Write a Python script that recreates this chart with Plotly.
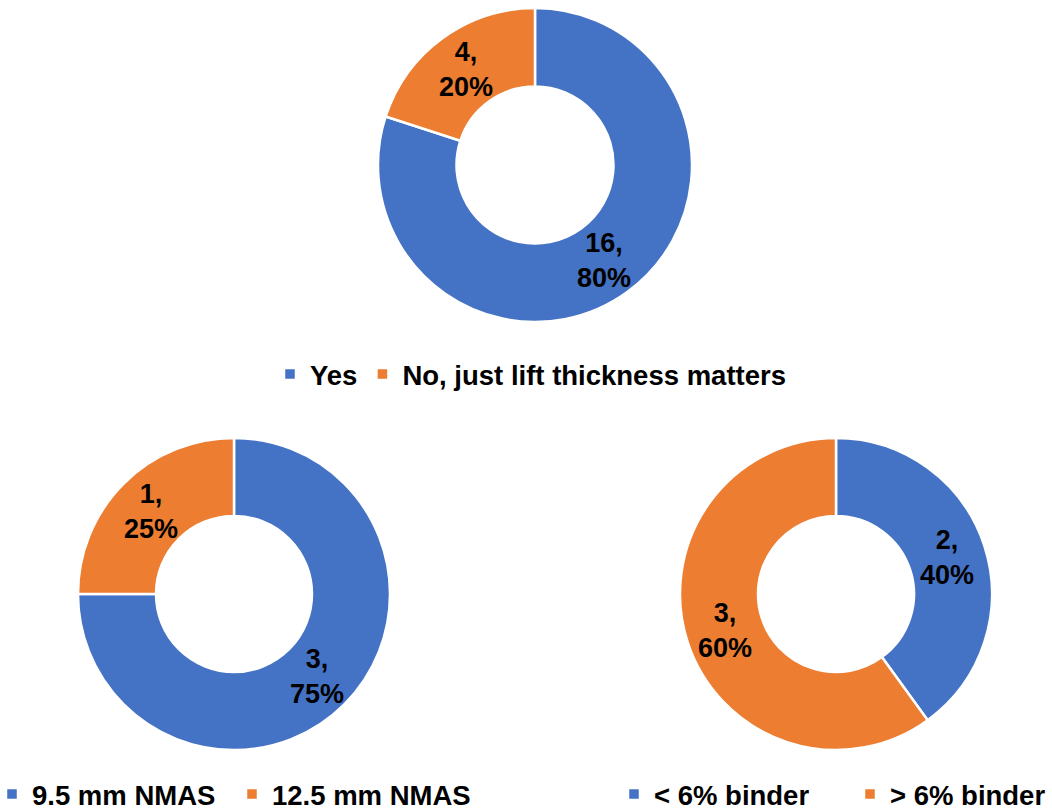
import math
import plotly.graph_objects as go

W, H = 1052, 810

BLUE = "#4472C4"
ORANGE = "#ED7D31"

# Survey responses for the three donuts
lift_labels = ["Yes", "No, just lift thickness matters"]
lift_counts = [16, 4]

nmas_labels = ["9.5 mm NMAS", "12.5 mm NMAS"]
nmas_counts = [3, 1]

binder_labels = ["< 6% binder", "> 6% binder"]
binder_counts = [2, 3]

FONT = "Liberation Sans, Arial, sans-serif"
HOLE = 0.5


def px_domain(x0, x1, y0, y1):
    """Convert a pixel box (top-left origin) to paper domain."""
    return dict(x=[x0 / W, x1 / W], y=[1 - y1 / H, 1 - y0 / H])


def donut(labels, values, domain, legend):
    return go.Pie(
        labels=labels,
        values=values,
        hole=HOLE,
        sort=False,
        direction="clockwise",
        rotation=0,
        domain=domain,
        marker=dict(colors=[BLUE, ORANGE], line=dict(color="white", width=2.5)),
        textinfo="none",
        hoverinfo="label+value+percent",
        legend=legend,
    )


def slice_labels(values, domain):
    """Data labels ("count,<br>pct%") centred in the ring at each slice's mid-angle."""
    x0, x1 = domain["x"]
    y0, y1 = domain["y"]
    cx, cy = (x0 + x1) / 2 * W, (y0 + y1) / 2 * H
    r_out = min((x1 - x0) * W, (y1 - y0) * H) / 2
    r_mid = r_out * (1 + HOLE) / 2
    total = sum(values)
    start = 0.0
    anns = []
    for v in values:
        frac = v / total
        mid = (start + frac / 2) * 2 * math.pi  # clockwise from 12 o'clock
        start += frac
        px = cx + r_mid * math.sin(mid)
        py = cy + r_mid * math.cos(mid)
        anns.append(
            dict(
                x=px / W,
                y=py / H,
                xref="paper",
                yref="paper",
                text=f"{v},<br>{frac:.0%}",
                showarrow=False,
                xanchor="center",
                yanchor="middle",
                align="center",
                font=dict(family=FONT, size=27, color="black", weight="bold"),
            )
        )
    return anns


dom_top = px_domain(378, 692, 8, 322)
dom_left = px_domain(78, 390, 438, 750)
dom_right = px_domain(680, 992, 438, 750)

fig = go.Figure()
fig.add_trace(donut(lift_labels, lift_counts, dom_top, "legend"))
fig.add_trace(donut(nmas_labels, nmas_counts, dom_left, "legend2"))
fig.add_trace(donut(binder_labels, binder_counts, dom_right, "legend3"))

annotations = (
    slice_labels(lift_counts, dom_top)
    + slice_labels(nmas_counts, dom_left)
    + slice_labels(binder_counts, dom_right)
)

legend_font = dict(family=FONT, size=27.5, color="black", weight="bold")
common = dict(
    orientation="h",
    font=legend_font,
    xanchor="left",
    yanchor="middle",
    bgcolor="rgba(0,0,0,0)",
    traceorder="normal",
    itemclick=False,
    itemdoubleclick=False,
)

fig.update_layout(
    width=W,
    height=H,
    margin=dict(l=0, r=0, t=0, b=0, autoexpand=False),
    paper_bgcolor="white",
    plot_bgcolor="white",
    showlegend=True,
    annotations=annotations,
    legend=dict(common, x=270 / W, y=1 - 374 / H),
    legend2=dict(common, x=-8 / W, y=1 - 794 / H, entrywidth=195),
    legend3=dict(common, x=614 / W, y=1 - 794 / H, entrywidth=191),
)

fig.write_html("out.html")
